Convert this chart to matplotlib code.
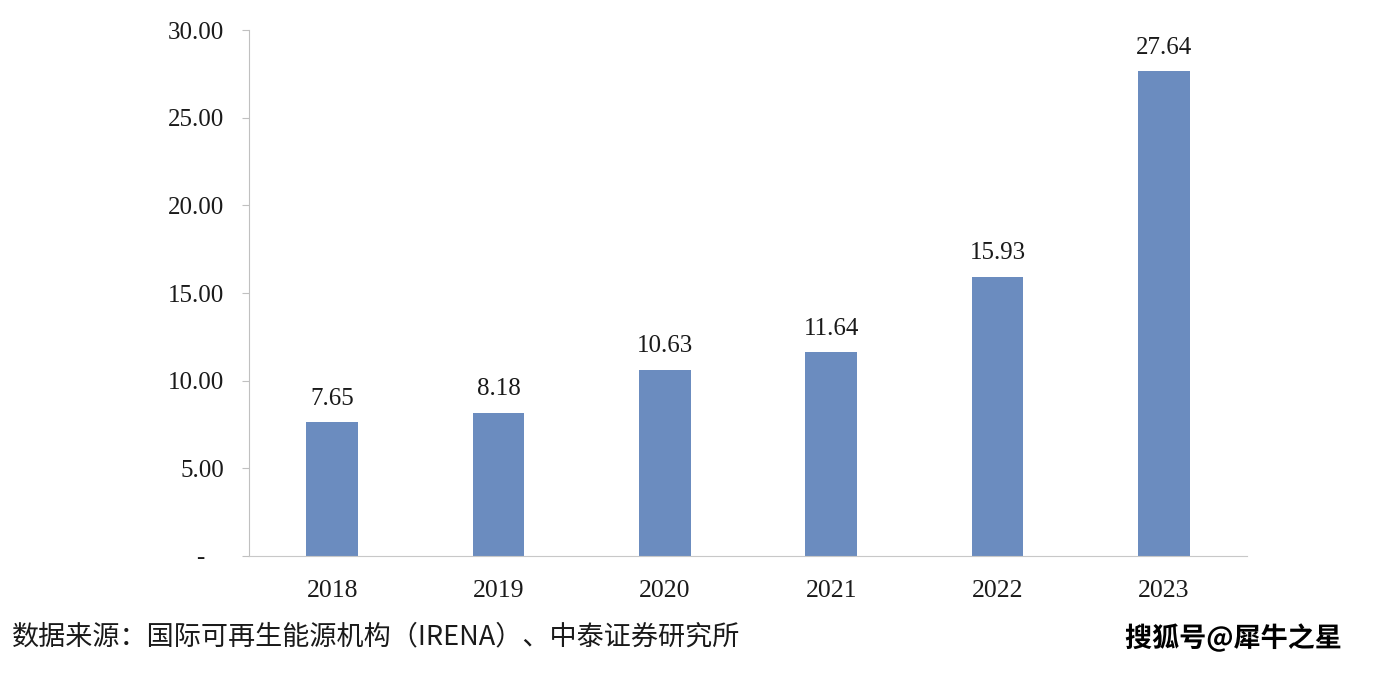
import numpy as np
import matplotlib.pyplot as plt
import matplotlib.patheffects as pe

# data
years = ["2018", "2019", "2020", "2021", "2022", "2023"]
values = [7.65, 8.18, 10.63, 11.64, 15.93, 27.64]
yticks = [0, 5, 10, 15, 20, 25, 30]
ytick_labels = ["-   ", "5.00", "10.00", "15.00", "20.00", "25.00", "30.00"]

serif = ["Liberation Serif", "DejaVu Serif"]
cjk = ["Noto Sans CJK SC", "DejaVu Sans"]

fig = plt.figure(figsize=(13.74, 6.74), dpi=100)
ax = fig.add_axes([249 / 1374, 118 / 674, 998 / 1374, 526 / 674])

x = np.arange(len(years))
bars = ax.bar(x, values, width=0.31, color="#6b8cbf")

for xi, v in zip(x, values):
    ax.text(xi, v + 0.7, f"{v:.2f}", ha="center", va="bottom",
            fontsize=18, family=serif, color="#1a1a1a")

ax.set_xlim(-0.5, len(years) - 0.5)
ax.set_ylim(0, 30)
ax.set_xticks(x)
ax.set_xticklabels(years, fontsize=18.5, family=serif, color="#1a1a1a")
ax.set_yticks(yticks)
ax.set_yticklabels(ytick_labels, fontsize=18, family=serif, color="#1a1a1a")

for side in ["top", "right"]:
    ax.spines[side].set_visible(False)
ax.spines["left"].set_color("#c0c0c0")
ax.spines["bottom"].set_color("#c8c8c8")
ax.tick_params(axis="y", length=5, color="#c0c0c0", pad=13)
ax.tick_params(axis="x", length=0, pad=17)

fig.text(12 / 1374, 1 - 637 / 674, "数据来源：国际可再生能源机构（IRENA）、中泰证券研究所",
         ha="left", va="center", fontsize=19.5, family=cjk, color="#1a1a1a")
wm = fig.text(1125 / 1374, 1 - 638 / 674, "搜狐号@犀牛之星",
              ha="left", va="center", fontsize=19.5, family=cjk,
              color="black", weight="bold")
wm.set_path_effects([pe.withStroke(linewidth=2, foreground="white")])

fig.savefig("out.png", dpi=100, facecolor="white")
